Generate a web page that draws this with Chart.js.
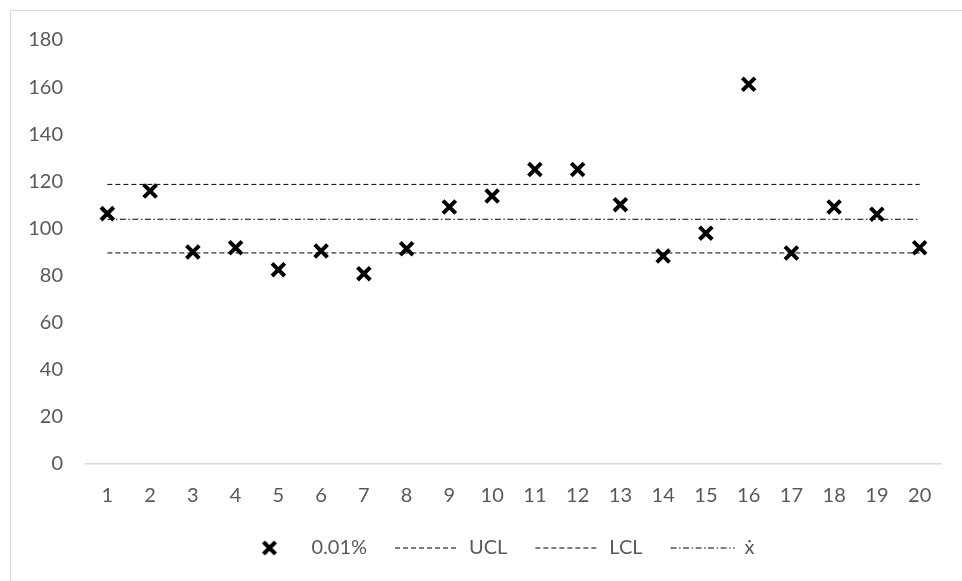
<!DOCTYPE html>
<html>
<head>
<meta charset="utf-8">
<script src="https://cdn.jsdelivr.net/npm/chart.js@4.4.1/dist/chart.umd.min.js"></script>
<style>
  html,body{margin:0;padding:0;background:#fff;overflow:hidden;width:962px;height:581px;}
  #frame{position:absolute;left:10px;top:10px;width:1000px;height:600px;border-left:1px solid #d9d9d9;border-top:1px solid #d9d9d9;pointer-events:none;}
  #chart{position:absolute;left:0;top:0;}
</style>
</head>
<body>
<canvas id="chart" width="990" height="600" style="width:990px;height:600px"></canvas>
<div id="frame"></div>
<script>
// numeros de amostra
const samples = ['1','2','3','4','5','6','7','8','9','10','11','12','13','14','15','16','17','18','19','20'];
// 0.01%
const values = [106.3,115.9,90.0,91.8,82.5,90.4,80.8,91.4,109.1,113.8,125.0,125.0,110.1,88.3,98.0,161.2,89.6,109.1,106.0,91.8];
// limites de controle
const limitNames = ['UCL','LCL','ẋ'];
const limitValues = [118.7,89.6,103.9];
const limitDash = [[5,3],[5,3],[6,2.5,1.5,2.5]];
const yTicks = [0,20,40,60,80,100,120,140,160,180];

Chart.defaults.font.family = 'Lato, "Open Sans", sans-serif';
Chart.defaults.font.size = 20;
Chart.defaults.color = '#595959';

// marcador X da legenda
const legendCross = document.createElement('canvas');
legendCross.width = 20; legendCross.height = 20;
(function(){
  const c = legendCross.getContext('2d');
  c.strokeStyle = '#000'; c.lineWidth = 4;
  c.beginPath();
  c.moveTo(4,4); c.lineTo(16,16);
  c.moveTo(16,4); c.lineTo(4,16);
  c.stroke();
})();

const datasets = [{
  label:'0.01%',
  data:values,
  showLine:false,
  pointStyle:'crossRot',
  pointRadius:9,
  pointHoverRadius:9,
  pointBorderWidth:4,
  borderColor:'#000',
  backgroundColor:'#000'
}];
limitNames.forEach((n,i)=>{
  datasets.push({
    label:n,
    data:[{x:samples[0],y:limitValues[i]},{x:samples[samples.length-1],y:limitValues[i]}],
    borderColor:'#000',
    borderWidth:1,
    borderDash:limitDash[i],
    pointRadius:0,
    pointStyle:'line',
    fill:false
  });
});

// centraliza a legenda como no original
const legendShift = {
  id:'legendShift',
  afterLayout(chart){
    const l = chart.legend;
    if(!l) return;
    const d = 496 - (l.left + l.right)/2;
    l.left += d; l.right += d;
  }
};

new Chart(document.getElementById('chart').getContext('2d'),{
  type:'line',
  data:{labels:samples,datasets},
  plugins:[legendShift],
  options:{
    responsive:false,
    animation:false,
    devicePixelRatio:1,
    layout:{padding:{left:26,right:49,top:40,bottom:32}},
    plugins:{
      tooltip:{enabled:false},
      legend:{
        position:'bottom',
        labels:{
          usePointStyle:true,
          pointStyleWidth:64,
          boxHeight:12.7,
          padding:28,
          color:'#595959',
          generateLabels(chart){
            const items = Chart.defaults.plugins.legend.labels.generateLabels(chart);
            items.forEach(it=>{
              const ds = chart.data.datasets[it.datasetIndex];
              if(ds.borderDash){it.lineDash = ds.borderDash; it.lineWidth = 1;}
              else {it.pointStyle = legendCross; it.lineWidth = 4;}
              it.strokeStyle = '#000';
              it.fillStyle = '#000';
            });
            return items;
          }
        }
      }
    },
    scales:{
      x:{
        type:'category',
        offset:true,
        grid:{display:false,drawTicks:false},
        border:{display:true,color:'#d9d9d9',width:1.5},
        ticks:{padding:20,color:'#595959',maxRotation:0,autoSkip:false},
        afterFit(s){ s.height = 46; }
      },
      y:{
        min:0,max:180,
        grid:{display:false,drawTicks:false},
        border:{display:false},
        afterBuildTicks(s){ s.ticks = yTicks.map(v=>({value:v})); },
        ticks:{padding:23,color:'#595959'},
        afterFit(s){ s.width = 60; }
      }
    }
  }
});
</script>
</body>
</html>
